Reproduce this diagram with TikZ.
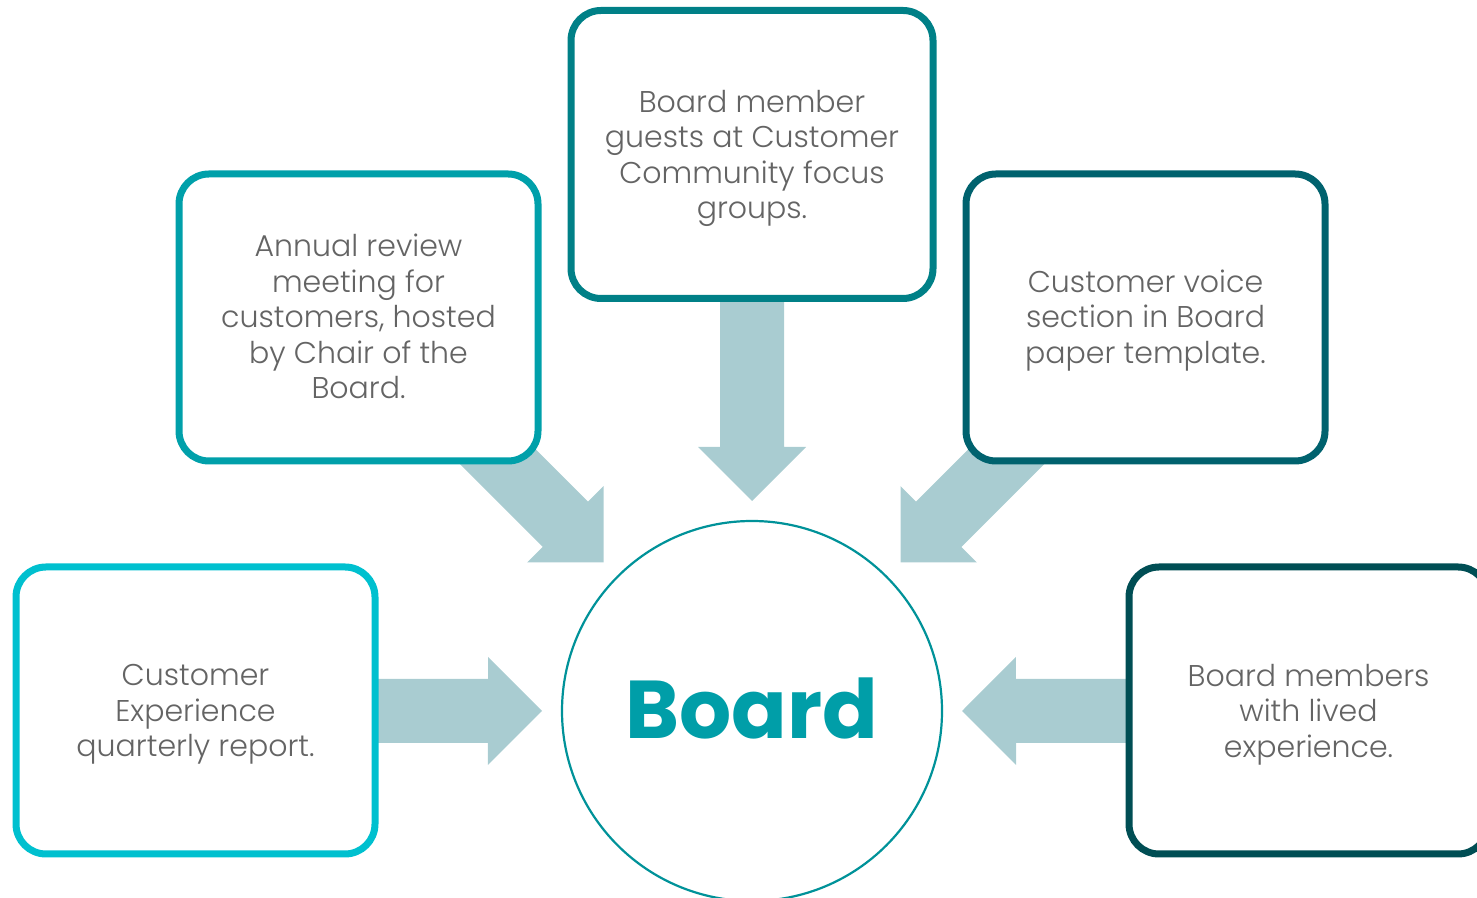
\documentclass[tikz,border=0pt]{standalone}
\usepackage{fontspec}
\setmainfont{Poppins}
\newfontfamily\lightfont{Poppins Light}
\usetikzlibrary{calc}

\definecolor{cOne}{RGB}{0,192,207}
\definecolor{cTwo}{RGB}{0,160,170}
\definecolor{cThree}{RGB}{0,128,135}
\definecolor{cFour}{RGB}{0,98,110}
\definecolor{cFive}{RGB}{0,78,84}
\definecolor{ringcol}{RGB}{0,146,153}
\definecolor{titlecol}{RGB}{0,158,168}
\definecolor{bodytext}{RGB}{100,100,100}
\definecolor{arrowcol}{RGB}{169,204,209}

% wide block arrow from the centre of a source (#1) to a tip point (#2)
\newcommand\blockarrow[2]{%
  \path ($(#2)!27pt!(#1)$) coordinate (ah);
  \fill[arrowcol]
    ($(#1)!16pt!90:(#2)$) -- ($(ah)!16pt!90:(#2)$) -- ($(ah)!27pt!90:(#2)$)
    -- (#2)
    -- ($(ah)!27pt!-90:(#2)$) -- ($(ah)!16pt!-90:(#2)$) -- ($(#1)!16pt!-90:(#2)$)
    -- cycle;
}

\tikzset{
  infobox/.style={draw=#1, fill=white, line width=3.5pt, rounded corners=15pt,
    minimum width=179.5pt, minimum height=143.5pt, inner sep=0pt},
  boxtext/.style={align=center, text=bodytext, inner sep=0pt,
    font=\lightfont\fontsize{15pt}{17.75pt}\selectfont},
  hub/.style={circle, draw=ringcol, fill=white, line width=1.1pt,
    minimum size=190pt, inner sep=0pt},
  hubtext/.style={text=titlecol, inner sep=0pt,
    font=\bfseries\fontsize{41pt}{46pt}\selectfont},
}

\begin{document}
\begin{tikzpicture}[x=0.5pt,y=0.5pt]
  \useasboundingbox (0,0) rectangle (1477,898);
  \clip (0,0) rectangle (1477,898);

  % hub and arrow tips around it
  \node[hub] (board) at (752,187) {};
  \coordinate (tW)  at ($(board.center)+(180:210)$);
  \coordinate (tNW) at ($(board.center)+(135:210)$);
  \coordinate (tN)  at ($(board.center)+(90:210)$);
  \coordinate (tNE) at ($(board.center)+(45:210)$);
  \coordinate (tE)  at ($(board.center)+(0:210)$);

  % source positions
  \coordinate (p1) at (195.5,187.5);
  \coordinate (p2) at (358.5,580.5);
  \coordinate (p3) at (752,743.5);
  \coordinate (p4) at (1145.5,580.5);
  \coordinate (p5) at (1308.5,187.5);

  % arrows sit behind the boxes
  \blockarrow{p1}{tW}
  \blockarrow{p2}{tNW}
  \blockarrow{p3}{tN}
  \blockarrow{p4}{tNE}
  \blockarrow{p5}{tE}

  \node[infobox=cOne]   (b1) at (p1) {};
  \node[infobox=cTwo]   (b2) at (p2) {};
  \node[infobox=cThree, minimum width=181pt, minimum height=144pt] (b3) at (p3) {};
  \node[infobox=cFour]  (b4) at (p4) {};
  \node[infobox=cFive]  (b5) at (p5) {};

  \node[boxtext] (t1) at ($(b1.center)+(0,-4)$) {Customer\\Experience\\quarterly report.};
  \node[boxtext] (t2) at ($(b2.center)+(0,1)$) {Annual review\\meeting for\\customers, hosted\\by Chair of the\\Board.};
  \node[boxtext] (t3) at ($(b3.center)+(0,-4)$) {Board member\\guests at Customer\\Community focus\\groups.};
  \node[boxtext] (t4) at ($(b4.center)+(0,-3)$) {Customer voice\\section in Board\\paper template.};
  \node[boxtext] (t5) at ($(b5.center)+(0,-4)$) {Board members\\with lived\\experience.};

  \node[hubtext] (boardlabel) at ($(board.center)+(0,3)$) {Board};
\end{tikzpicture}
\end{document}
